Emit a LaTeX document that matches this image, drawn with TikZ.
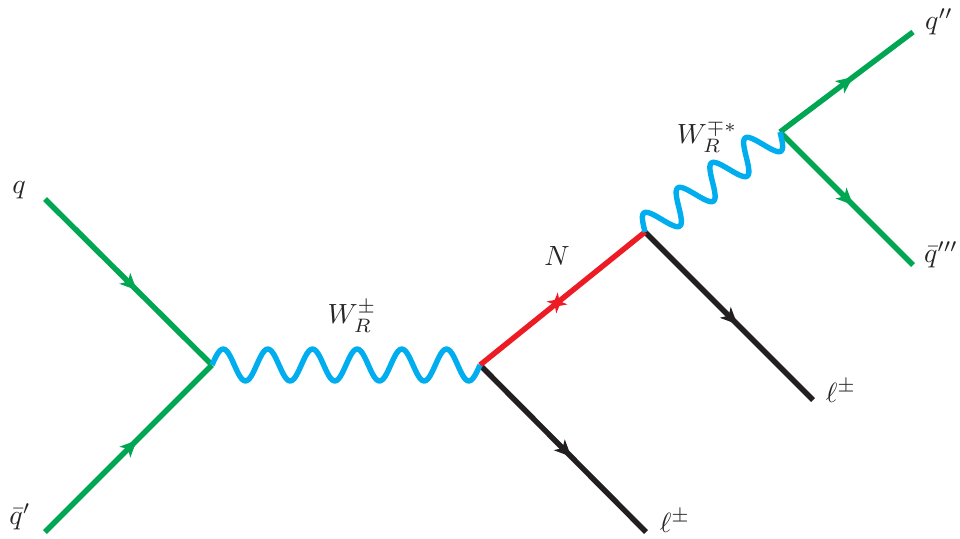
\documentclass[tikz,border=0pt]{standalone}
\usepackage{amsmath}
\usepackage{amssymb}
\usepackage{xcolor}
\usetikzlibrary{arrows.meta,calc,decorations.markings}
\definecolor{cQuark}{HTML}{00A651}
\definecolor{cBoson}{HTML}{00AEEF}
\definecolor{cNeut}{HTML}{ED1C24}
\definecolor{cLep}{HTML}{231F20}
\begin{document}
\begin{tikzpicture}[
  x=0.36pt, y=-0.36pt,
  line width=1.95pt,
  fwd/.style={postaction={decorate}, decoration={markings, mark=at position 0.55 with {\arrow{Stealth[length=6pt,width=5.4pt,inset=1.6pt]}}}},
  quark/.style={draw=cQuark, text=cQuark, fwd},
  lep/.style={draw=cLep, text=cLep, fwd},
  neut/.style={draw=cNeut, text=cNeut, postaction={decorate}, decoration={markings,
    mark=at position 0.5 with {\arrow{Stealth[length=5pt,width=5.4pt,inset=1.4pt]}},
    mark=at position 0.5 with {\arrow{Stealth[length=5pt,width=5.4pt,inset=1.4pt,reversed]}}}},
  boson/.style={draw=cBoson, line join=round},
  lbl/.style={text=black!85, inner sep=0pt}
]
\useasboundingbox (0,0) rectangle (960,538);
% vertices and free ends
\coordinate (v1) at (212,365);
\coordinate (v2) at (480,365);
\coordinate (v3) at (645,232);
\coordinate (v4) at (780,132);
\coordinate (qin) at (45,199);
\coordinate (qbin) at (45,532);
\coordinate (l1) at (646,532);
\coordinate (l2) at (813,400);
\coordinate (qout) at (913,32);
\coordinate (qbout) at (913,265);
% lines
\draw[quark] (qin)--(v1);
\draw[quark] (qbin)--(v1);
\draw[lep] (v2)--(l1);
\draw[lep] (v3)--(l2);
\draw[quark] (v4)--(qout);
\draw[quark] (v4)--(qbout);
\draw[neut] (v2)--(v3);
\draw[boson] (v1) \foreach \i in {1,...,143}{ -- ($(v1)!\i/144!(v2)!5.76pt*sin(15*\i)!90:(v2)$) } -- (v2);
\draw[boson] (v3) \foreach \i in {1,...,95}{ -- ($(v3)!\i/96!(v4)!5.76pt*sin(15*\i)!90:(v4)$) } -- (v4);
% labels
\node[lbl] (lq) at (19,190) {$q$};
\node[lbl] (lqb) at (20,517) {$\bar q'$};
\node[lbl] (lw) at (352,316) {$W_R^\pm$};
\node[lbl] (ln) at (557,256) {$N$};
\node[lbl] (lws) at (707,136) {$W_R^{\mp *}$};
\node[lbl] (ll1) at (675,521) {$\ell^\pm$};
\node[lbl] (ll2) at (841,391) {$\ell^\pm$};
\node[lbl] (lqo) at (939,22) {$q''$};
\node[lbl] (lqbo) at (941,255) {$\bar q'''$};
\end{tikzpicture}
\end{document}
